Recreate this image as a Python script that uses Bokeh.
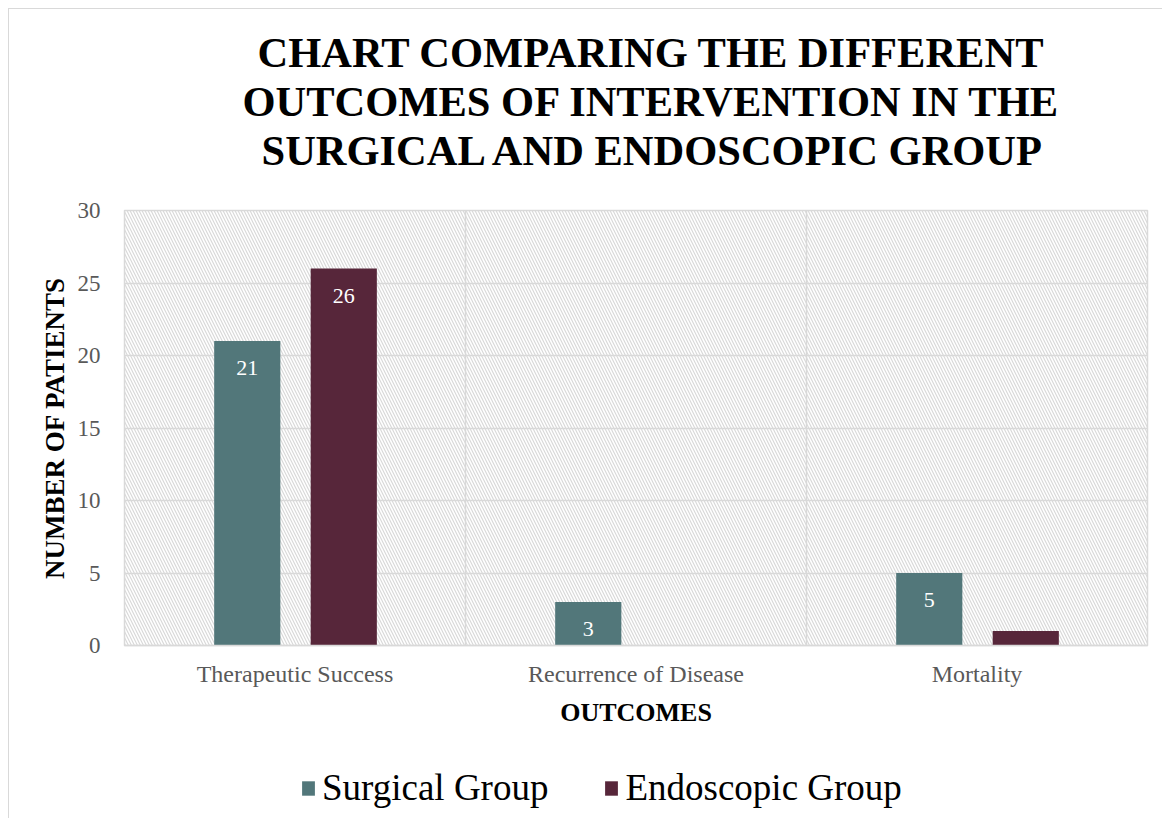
from bokeh.plotting import figure
from bokeh.layouts import column
from bokeh.models import (ColumnDataSource, FactorRange, Range1d, BoxAnnotation, Span,
                          LabelSet, Legend, LegendItem, FixedTicker, Title)
from bokeh.transform import dodge
from bokeh.embed import file_html
from bokeh.resources import INLINE

categories = ["Therapeutic Success", "Recurrence of Disease", "Mortality"]
surgical = [21, 3, 5]
endoscopic = [26, 0, 1]
series_names = ["Surgical Group", "Endoscopic Group"]
y_ticks = [0, 5, 10, 15, 20, 25, 30]
title_lines = ["CHART COMPARING THE DIFFERENT",
               "OUTCOMES OF INTERVENTION IN THE",
               "SURGICAL AND ENDOSCOPIC GROUP"]

C_SURG = "#52777A"
C_ENDO = "#57263A"
GRID = "#d9d9d9"
SERIF = "Liberation Serif"

p = figure(x_range=FactorRange(*categories), y_range=Range1d(0, 30),
           width=1153, height=752, output_backend="svg", toolbar_location=None,
           min_border_left=115, min_border_right=15, min_border_top=201, min_border_bottom=116)

def style_title(t, offset):
    t.text_font = SERIF
    t.text_font_size = "42.5px"
    t.text_font_style = "bold"
    t.text_color = "#000000"
    t.align = "left"
    t.offset = offset
    t.standoff = 0

# titles stack outward from the frame: spacer, line 3, line 2, then line 1 (p.title)
p.title.text = title_lines[0]
style_title(p.title, 133)
spacer = Title(text=" ", text_font_size="1px", standoff=34)
p.add_layout(spacer, "above")
t3 = Title(text=title_lines[2]); style_title(t3, 137); p.add_layout(t3, "above")
t2 = Title(text=title_lines[1]); style_title(t2, 118); p.add_layout(t2, "above")

p.background_fill_color = "white"
p.border_fill_color = "white"
p.outline_line_color = GRID
p.outline_line_width = 1.5

# hatched plot area
p.add_layout(BoxAnnotation(left=0, right=3, bottom=0, top=30, fill_alpha=0,
                           line_color=None, hatch_pattern="\\", hatch_color="#d9d9d9",
                           hatch_scale=6, hatch_weight=1.2, level="image"))

p.xgrid.grid_line_color = None
p.ygrid.grid_line_color = GRID
p.ygrid.grid_line_width = 1.5
p.ygrid.ticker = FixedTicker(ticks=y_ticks)
for b in [1, 2]:
    p.add_layout(Span(location=b, dimension="height", line_color=GRID, line_width=1.5, level="underlay"))

src = ColumnDataSource(dict(cats=categories, surgical=surgical, endoscopic=endoscopic,
                            s_lab=[str(v) for v in surgical],
                            e_lab=[str(v) if v > 2 else "" for v in endoscopic]))

p.vbar(x=dodge("cats", -0.14, range=p.x_range), top="surgical", width=0.194,
       source=src, fill_color=C_SURG, line_color=None)
p.vbar(x=dodge("cats", 0.143, range=p.x_range), top="endoscopic", width=0.194,
       source=src, fill_color=C_ENDO, line_color=None)

for xcol, ycol, lab, off in [("cats", "surgical", "s_lab", -0.14), ("cats", "endoscopic", "e_lab", 0.143)]:
    p.add_layout(LabelSet(x=dodge(xcol, off, range=p.x_range), y=ycol, text=lab, source=src,
                          text_align="center", text_baseline="middle", y_offset=-27,
                          text_color="white", text_font=SERIF, text_font_size="22px"))

# axes
p.yaxis.ticker = FixedTicker(ticks=y_ticks)
p.yaxis.axis_line_color = None
p.yaxis.major_tick_line_color = None
p.yaxis.minor_tick_line_color = None
p.yaxis.major_label_text_font = SERIF
p.yaxis.major_label_text_font_size = "23px"
p.yaxis.major_label_text_color = "#595959"
p.yaxis.major_label_standoff = 18
p.yaxis.axis_label = "NUMBER OF PATIENTS"
p.yaxis.axis_label_text_font = SERIF
p.yaxis.axis_label_text_font_size = "27px"
p.yaxis.axis_label_text_font_style = "bold"
p.yaxis.axis_label_text_color = "#000000"
p.yaxis.axis_label_standoff = 5

p.xaxis.axis_line_color = GRID
p.xaxis.axis_line_width = 1.5
p.xaxis.major_tick_line_color = None
p.xaxis.minor_tick_line_color = None
p.xaxis.major_label_text_font = SERIF
p.xaxis.major_label_text_font_size = "24px"
p.xaxis.major_label_text_color = "#595959"
p.xaxis.major_label_standoff = 9
p.xaxis.axis_label = "OUTCOMES"
p.xaxis.axis_label_text_font = SERIF
p.xaxis.axis_label_text_font_size = "26px"
p.xaxis.axis_label_text_font_style = "bold"
p.xaxis.axis_label_text_color = "#000000"
p.xaxis.axis_label_standoff = 8

# legend strip (its frame is aligned with the main frame by the column layout)
pl = figure(width=1153, height=57, output_backend="svg", toolbar_location=None,
            x_range=Range1d(0, 1), y_range=Range1d(0, 1),
            x_axis_location=None, y_axis_location=None, min_border=0,
            outline_line_color=None, background_fill_color="white", border_fill_color="white")
pl.grid.visible = False
lsrc = ColumnDataSource(dict(x=[-5], top=[0]))
lr1 = pl.vbar(x="x", top="top", width=0.1, source=lsrc, fill_color=C_SURG, line_color=None)
lr2 = pl.vbar(x="x", top="top", width=0.1, source=lsrc, fill_color=C_ENDO, line_color=None)
legend = Legend(items=[LegendItem(label=series_names[0], renderers=[lr1]),
                       LegendItem(label=series_names[1], renderers=[lr2])],
                orientation="horizontal", location=(176, 9),
                label_text_font=SERIF, label_text_font_size="37px", label_text_color="#000000",
                glyph_width=16, glyph_height=18, label_standoff=6, spacing=55,
                padding=0, margin=0, border_line_color=None, background_fill_alpha=0)
pl.add_layout(legend, "center")

layout = column(p, pl, spacing=0,
                styles={"margin": "8px 0 0 8px",
                        "border-left": "1px solid #d9d9d9", "border-top": "1px solid #d9d9d9"})

open("out.html", "w").write(file_html(layout, INLINE))
